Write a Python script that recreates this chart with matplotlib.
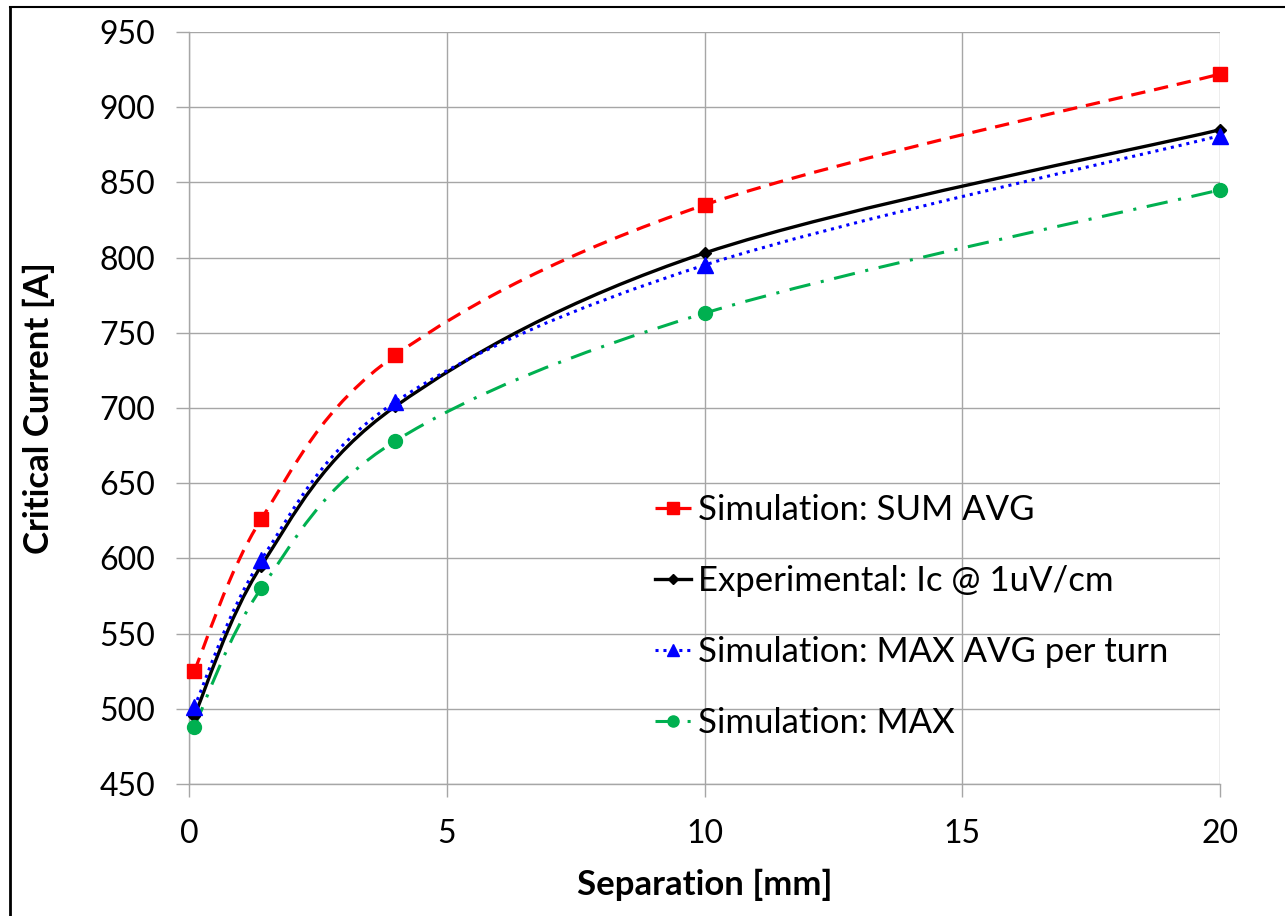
import numpy as np
import matplotlib.pyplot as plt
from matplotlib.path import Path
from matplotlib.patches import PathPatch
from matplotlib.lines import Line2D

plt.rcParams['font.family'] = ['Lato', 'DejaVu Sans']

# separation [mm] and critical current [A]
sep = [0.1, 1.4, 4, 10, 20]
sum_avg = [525, 626, 735, 835, 922]
experimental = [495, 595, 701, 803, 885]
max_avg_turn = [501, 599, 704, 795, 881]
max_sim = [488, 580, 678, 763, 845]

labels = ['Simulation: SUM AVG', 'Experimental: Ic @ 1uV/cm',
          'Simulation: MAX AVG per turn', 'Simulation: MAX']


def smooth_path(x, y):
    # cubic bezier through the points, catmull-rom style tangents
    p = np.column_stack([x, y]).astype(float)
    n = len(p)
    verts = [p[0]]
    codes = [Path.MOVETO]
    for i in range(n - 1):
        p0 = p[i - 1] if i > 0 else p[i]
        p3 = p[i + 2] if i + 2 < n else p[i + 1]
        c1 = p[i] + (p[i + 1] - p0) / 6
        c2 = p[i + 1] - (p3 - p[i]) / 6
        verts += [c1, c2, p[i + 1]]
        codes += [Path.CURVE4] * 3
    return Path(verts, codes)


fig = plt.figure(figsize=(12.85, 9.16), dpi=100)
ax = fig.add_axes([0.1471, 0.1441, 0.8023, 0.8210])

styles = [
    dict(color='#FF0000', ls=(0, (4.5, 2.8)), lw=2.3, marker='s', ms=10),
    dict(color='#000000', ls='-', lw=2.4, marker='D', ms=6),
    dict(color='#0000FF', ls=(0, (1, 1.6)), lw=2.2, marker='^', ms=11),
    dict(color='#00B050', ls=(0, (7, 3.5, 1, 3.5)), lw=2.2, marker='o', ms=10),
]
series = [sum_avg, experimental, max_avg_turn, max_sim]

handles = []
for ys, st, lab in zip(series, styles, labels):
    patch = PathPatch(smooth_path(sep, ys), fill=False, edgecolor=st['color'],
                      linestyle=st['ls'], linewidth=st['lw'], zorder=3)
    ax.add_patch(patch)
    ax.plot(sep, ys, linestyle='none', marker=st['marker'], ms=st['ms'],
            color=st['color'], zorder=4, clip_on=False)
    handles.append(Line2D([], [], color=st['color'], linestyle=st['ls'],
                          linewidth=st['lw'], marker=st['marker'],
                          ms=st['ms'] * 0.8, label=lab))

ax.set_xlim(0, 20)
ax.set_ylim(450, 950)
ax.set_xticks([0, 5, 10, 15, 20])
ax.set_yticks(np.arange(450, 951, 50))

grid_c = '#A6A6A6'
ax.grid(True, color=grid_c, linewidth=1.0)
ax.set_axisbelow(True)
for s in ['top', 'right']:
    ax.spines[s].set_visible(False)
for s in ['left', 'bottom']:
    ax.spines[s].set_color(grid_c)
    ax.spines[s].set_linewidth(1.0)
ax.tick_params(axis='both', direction='out', length=9.5, width=1.0,
               color=grid_c, labelsize=23, labelcolor='#000000')
ax.tick_params(axis='y', pad=15)
ax.tick_params(axis='x', pad=16)

ax.set_xlabel('Separation [mm]', fontsize=25, fontweight='bold', labelpad=14)
ax.set_ylabel('Critical Current [A]', fontsize=25, fontweight='bold', labelpad=32)

ax.legend(handles=handles, loc='upper left',
          bbox_to_anchor=(655 / 1285, 1 - 494 / 916),
          bbox_transform=fig.transFigure, borderaxespad=0, borderpad=0,
          frameon=False, fontsize=25, handlelength=1.05, handletextpad=0.2,
          labelspacing=1.12)

# outer chart border
fig.add_artist(Line2D([9.5 / 1285, 9.5 / 1285], [0, 1 - 7 / 916],
                      transform=fig.transFigure, color='black', lw=2))
fig.add_artist(Line2D([9.5 / 1285, 1], [1 - 7 / 916, 1 - 7 / 916],
                      transform=fig.transFigure, color='black', lw=1.5))

fig.savefig('out.png', dpi=100)
